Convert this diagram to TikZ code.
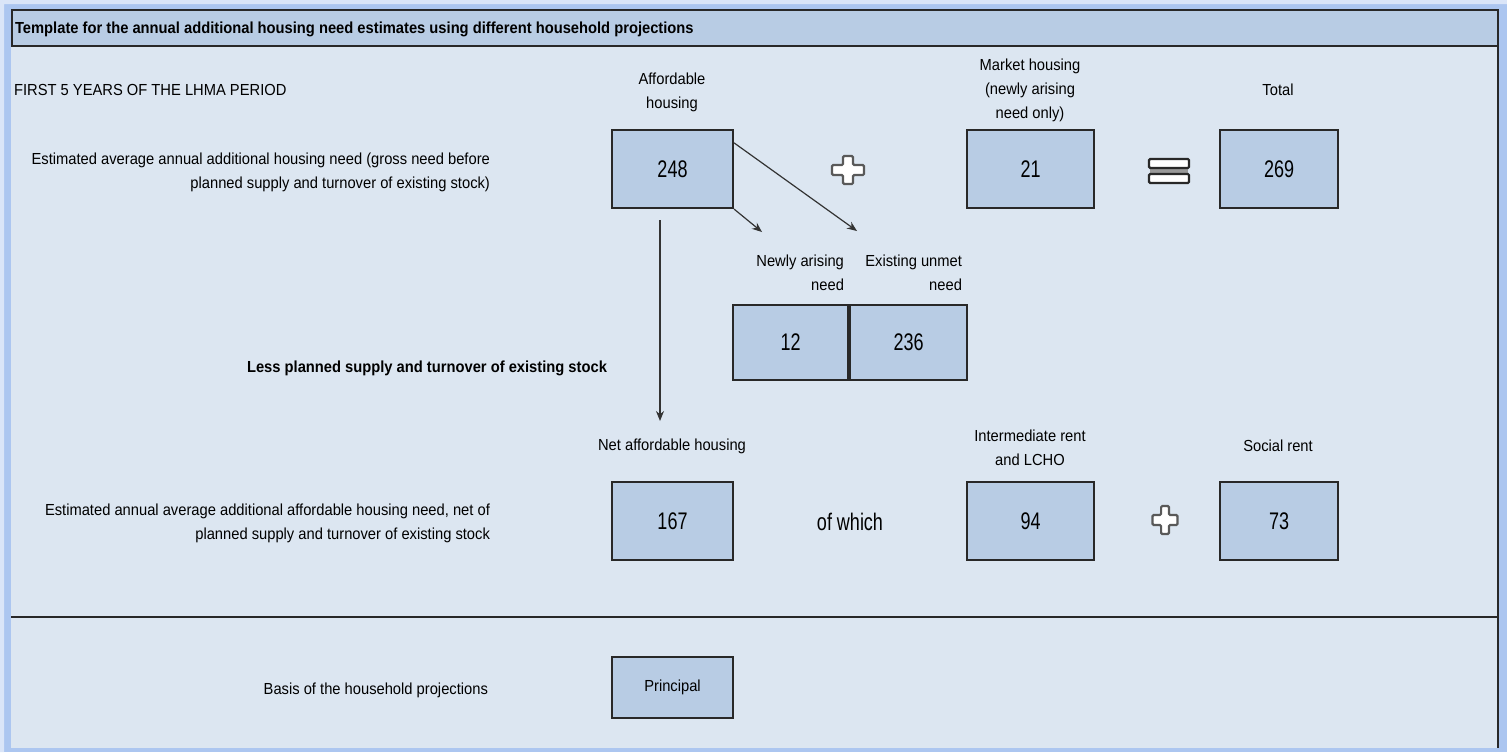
\documentclass[tikz,border=0pt]{standalone}
\usepackage{fontspec}
\setmainfont{Liberation Sans}[FakeStretch=0.92]
\newfontfamily\numfont{Liberation Sans}[FakeStretch=0.75]
\usetikzlibrary{arrows.meta, positioning, calc}
\definecolor{HNframe}{RGB}{172,198,240}
\definecolor{HNbody}{RGB}{220,230,241}
\definecolor{HNbar}{RGB}{184,204,228}
\definecolor{HNbox}{RGB}{184,204,228}
\definecolor{HNline}{RGB}{40,40,40}

\tikzset{
  numbox/.style={draw=HNline, fill=HNbox, line width=1.1pt, inner sep=0pt,
    font=\numfont\fontsize{12}{14}\selectfont},
  plussign/.pic={
    \draw[black!65, fill=white, line width=1.1pt, rounded corners=0.6pt]
      (-5,-14) -- (5,-14) -- (5,-5) -- (16,-5) -- (16,5) -- (5,5) -- (5,14)
      -- (-5,14) -- (-5,5) -- (-16,5) -- (-16,-5) -- (-5,-5) -- cycle;
  },
}

\begin{document}
\begin{tikzpicture}[x=0.5pt, y=-0.5pt, >={Stealth[length=5pt,width=4pt]},
    font=\fontsize{8}{12}\selectfont]
  \useasboundingbox (0,0) rectangle (1507,752);
  % Frame
  \fill[HNframe] (0,0) rectangle (1507,752);
  \fill[white!55!HNframe] (0,0) rectangle (4,752) (0,0) rectangle (1507,4);
  \fill[HNbody] (11,46) rectangle (1498,748);
  \filldraw[fill=HNbar, draw=HNline, line width=1.2pt] (12,10) rectangle (1498,46);
  \draw[HNline, line width=0.9pt] (1498,46) -- (1498,748);
  \draw[HNline, line width=1.2pt] (11,617) -- (1498,617);
  \node[anchor=west, font=\bfseries\fontsize{8}{12}\selectfont] (title) at (8,29)
    {Template for the annual additional housing need estimates using different household projections};
  \node[anchor=west] (period) at (7,90) {FIRST 5 YEARS OF THE LHMA PERIOD};

  % Gross need row
  \node[anchor=east, align=right] (grosstxt) at (497,172)
    {Estimated average annual additional housing need (gross need before\\planned supply and turnover of existing stock)};
  \node[numbox, minimum width=60.5pt, minimum height=39pt] (a248) at (672.5,169) {248};
  \node[numbox, minimum width=63.5pt, minimum height=39pt] (m21) at (1030.5,169) {21};
  \node[numbox, minimum width=59pt, minimum height=39pt] (t269) at (1279,169) {269};
  \node[align=center] (afflbl) at (672,92) {Affordable\\housing};
  \node[align=center] (mktlbl) at (1030,90) {Market housing\\(newly arising\\need only)};
  \node (totlbl) at (1278,90) {Total};
  \pic at (848,170) {plussign};
  \fill[black!40] (1150,167) rectangle (1188,175);
  \filldraw[HNline, fill=white, line width=1.1pt, rounded corners=0.6pt]
    (1149,159) rectangle (1189,168) (1149,174) rectangle (1189,183);

  % Split of affordable need
  \node[anchor=east, align=right] (newlbl) at (851,273) {Newly arising\\need};
  \node[anchor=east, align=right] (exlbl) at (969,273) {Existing unmet\\need};
  \node[numbox, minimum width=57.5pt, minimum height=37.5pt] (n12) at (790.5,342.5) {12};
  \node[numbox, minimum width=58.5pt, minimum height=37.5pt, right=0pt of n12] (e236) {236};
  \coordinate (tipnew) at (762,232);
  \coordinate (tipexist) at (857,231);
  \draw[->, black!80, line width=0.6pt] (a248.south east) -- (tipnew);
  \draw[->, black!80, line width=0.6pt] ($(a248.north east)+(0,14)$) -- (tipexist);

  \node[anchor=east, font=\bfseries\fontsize{8}{12}\selectfont] (lesstxt) at (614,368)
    {Less planned supply and turnover of existing stock};
  \coordinate (vtop) at (660,220);
  \coordinate (vbot) at (660,421);
  \draw[->, black!80, line width=0.6pt] (vtop) -- (vbot);

  % Net need row
  \node[anchor=east, align=right] (nettxt) at (497,523)
    {Estimated annual average additional affordable housing need, net of\\planned supply and turnover of existing stock};
  \node (netlbl) at (672,446) {Net affordable housing};
  \node[align=center] (intlbl) at (1030,448) {Intermediate rent\\and LCHO};
  \node (soclbl) at (1278,446) {Social rent};
  \node[numbox, minimum width=60.5pt, minimum height=39pt] (net167) at (672.5,521) {167};
  \node[font=\numfont\fontsize{12}{14}\selectfont] (ofwhich) at (850,522) {of which};
  \node[numbox, minimum width=63.5pt, minimum height=39pt] (int94) at (1030.5,521) {94};
  \node[numbox, minimum width=59pt, minimum height=39pt] (soc73) at (1279,521) {73};
  \pic[xscale=0.78] at (1165,520) {plussign};

  % Projection basis
  \node[anchor=east] (basistxt) at (495,690) {Basis of the household projections};
  \node[numbox, minimum width=60.5pt, minimum height=30.5pt,
    font=\fontsize{8}{12}\selectfont] (princ) at (672.5,687.5) {Principal};
\end{tikzpicture}
\end{document}
